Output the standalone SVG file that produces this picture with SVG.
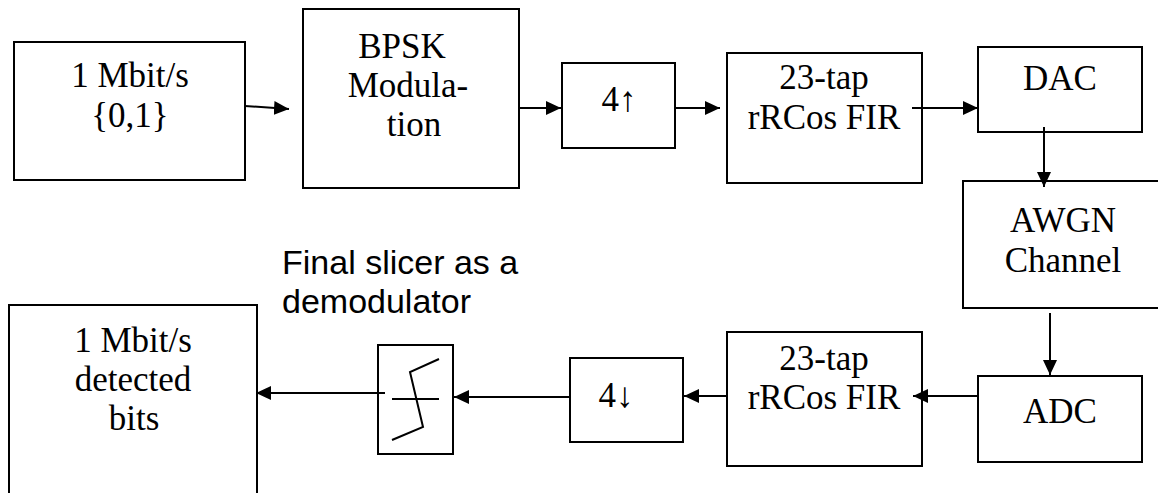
<svg xmlns="http://www.w3.org/2000/svg" width="1158" height="493" viewBox="0 0 1158 493">
<style>
.box{fill:#fff;stroke:#000;stroke-width:2}
.t{font-family:"Liberation Serif","Times New Roman",serif;font-size:35px;fill:#000;text-anchor:middle}
.s{font-family:"Liberation Sans",Arial,sans-serif;font-size:34px;fill:#000}
.c{stroke:#000;stroke-width:2;fill:none}
</style>
<defs>
<marker id="ah" viewBox="0 0 15 14" refX="15" refY="7" markerWidth="15" markerHeight="14" markerUnits="userSpaceOnUse" orient="auto">
<path d="M0,0 L15,7 L0,14 z" fill="#000"/>
</marker>
</defs>
<rect width="1158" height="493" fill="#fff"/>
<g id="src">
<rect class="box" x="14" y="42" width="231" height="138"/>
<text class="t" x="130" y="87">1 Mbit/s</text>
<text class="t" x="130" y="127">{0,1}</text>
</g>
<g id="bpsk">
<rect class="box" x="303" y="9" width="216" height="179"/>
<text class="t" x="402" y="58">BPSK</text>
<text class="t" x="408" y="97">Modula-</text>
<text class="t" x="414" y="136">tion</text>
</g>
<g id="up">
<rect class="box" x="562" y="63" width="113" height="85"/>
<text class="t" x="619" y="111">4↑</text>
</g>
<g id="fir1">
<rect class="box" x="727" y="53" width="195" height="130"/>
<text class="t" x="824" y="89">23-tap</text>
<text class="t" x="824" y="129">rRCos FIR</text>
</g>
<g id="dac">
<rect class="box" x="978" y="47" width="164" height="85"/>
<text class="t" x="1060" y="90">DAC</text>
</g>
<g id="awgn">
<rect class="box" x="963" y="181" width="200" height="127"/>
<text class="t" x="1063" y="232">AWGN</text>
<text class="t" x="1063" y="272">Channel</text>
</g>
<g id="adc">
<rect class="box" x="978" y="376" width="164" height="86"/>
<text class="t" x="1060" y="423">ADC</text>
</g>
<g id="fir2">
<rect class="box" x="727" y="332" width="195" height="134"/>
<text class="t" x="824" y="370">23-tap</text>
<text class="t" x="824" y="409">rRCos FIR</text>
</g>
<g id="down">
<rect class="box" x="570" y="358" width="113" height="84"/>
<text class="t" x="616" y="407">4↓</text>
</g>
<g id="slicer">
<rect class="box" x="378" y="345" width="75" height="109"/>
<line class="c" x1="392" y1="399" x2="439" y2="399"/>
<polyline class="c" points="439,359 410,372 423,427 392,440"/>
</g>
<g id="sink">
<rect class="box" x="9" y="305" width="248" height="200"/>
<text class="t" x="133" y="352">1 Mbit/s</text>
<text class="t" x="133" y="391">detected</text>
<text class="t" x="134" y="430">bits</text>
</g>
<g id="label">
<text class="s" x="282" y="274">Final slicer as a</text>
<text class="s" x="282" y="313">demodulator</text>
</g>
<g id="connectors">
<line class="c" x1="245" y1="106" x2="289" y2="109" marker-end="url(#ah)"/>
<line class="c" x1="519" y1="108" x2="561" y2="108" marker-end="url(#ah)"/>
<line class="c" x1="675" y1="108" x2="720" y2="108" marker-end="url(#ah)"/>
<line class="c" x1="912" y1="108" x2="978" y2="108" marker-end="url(#ah)"/>
<line class="c" x1="1044" y1="127" x2="1044" y2="187" marker-end="url(#ah)"/>
<line class="c" x1="1050" y1="313" x2="1050" y2="375" marker-end="url(#ah)"/>
<line class="c" x1="978" y1="396" x2="913" y2="396" marker-end="url(#ah)"/>
<line class="c" x1="727" y1="396" x2="684" y2="396" marker-end="url(#ah)"/>
<line class="c" x1="570" y1="397" x2="454" y2="397" marker-end="url(#ah)"/>
<line class="c" x1="385" y1="393" x2="256" y2="393" marker-end="url(#ah)"/>
</g>
</svg>
